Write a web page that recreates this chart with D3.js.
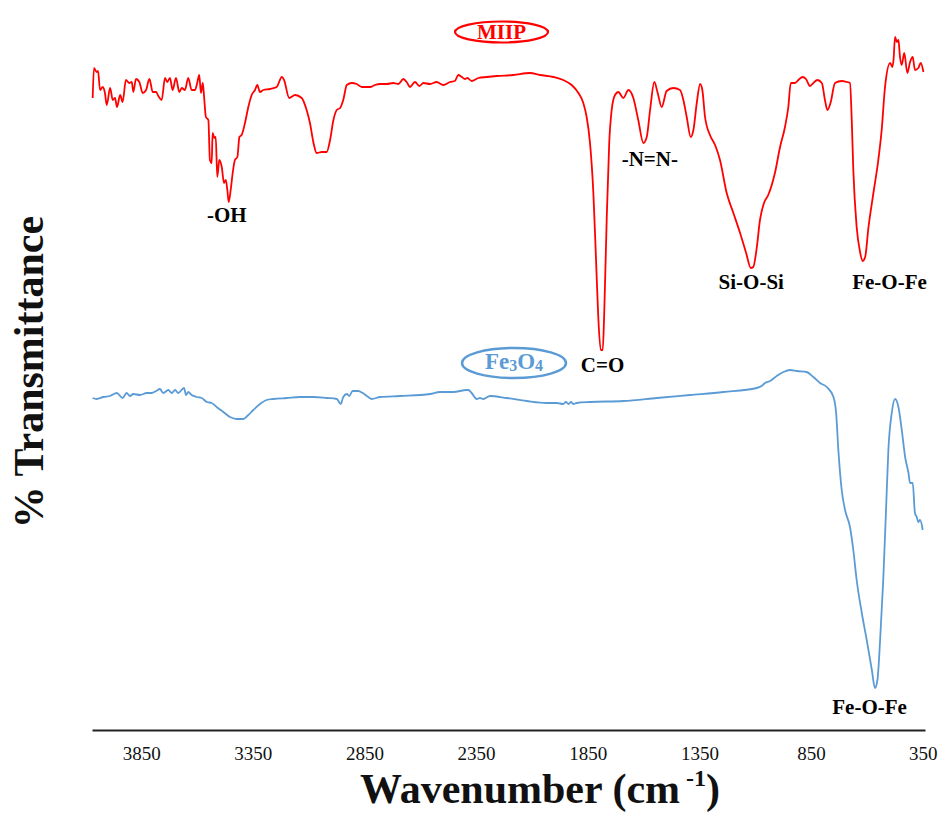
<!DOCTYPE html>
<html>
<head>
<meta charset="utf-8">
<script src="https://cdn.jsdelivr.net/npm/d3@7"></script>
<style>
  html, body { margin: 0; padding: 0; background: #fff; }
  svg { display: block; }
</style>
</head>
<body>
<svg id="chart" width="946" height="821"></svg>
<script>
// ---- Data (wavenumber cm^-1, transmittance in arbitrary units) ----
const miipWavenumber = [4067,4061,4049,4043,4034,4022,4012,4004,3989,3977,3967,3958,3944,3933,3918,3903,3892,3885,3873,3858,3843,3828,3813,3798,3783,3773,3758,3743,3733,3721,3709,3694,3679,3668,3654,3639,3624,3609,3598,3590,3582,3574,3568,3560,3549,3542,3534,3530,3522,3516,3509,3500,3489,3479,3471,3464,3458,3449,3440,3430,3419,3410,3400,3385,3370,3355,3340,3330,3318,3303,3273,3243,3220,3210,3187,3161,3131,3109,3094,3079,3064,3041,3019,3004,2989,2974,2959,2945,2929,2907,2885,2862,2825,2803,2780,2750,2721,2698,2676,2661,2646,2624,2604,2586,2556,2527,2497,2467,2445,2430,2414,2400,2389,2370,2340,2303,2258,2183,2109,2064,2004,1960,1922,1892,1870,1855,1840,1825,1813,1803,1792,1783,1776,1765,1754,1743,1728,1713,1691,1668,1646,1624,1601,1586,1571,1552,1537,1519,1497,1467,1437,1422,1407,1389,1377,1362,1347,1337,1325,1303,1280,1258,1228,1198,1168,1141,1120,1109,1093,1079,1061,1042,1012,989,967,952,941,922,907,888,873,855,840,822,802,788,777,762,743,713,690,676,668,661,646,630,619,608,593,571,549,534,519,496,486,481,474,466,459,452,444,433,419,407,395,385,370,359,347];
const miipTransmittance = [632,662,658,659,640,643,637,625,642,630,632,623,635,628,650,647,648,638,651,648,637,640,651,638,638,634,630,652,648,652,640,652,638,642,640,652,640,640,648,655,637,647,633,613,610,570,567,597,592,593,553,570,563,547,550,540,528,540,557,570,573,593,595,607,623,635,640,645,638,640,641,643,653,650,632,635,632,620,607,588,577,578,578,590,610,620,622,630,645,647,646,643,643,645,646,646,647,646,651,648,643,648,644,647,646,648,645,648,649,655,653,651,652,649,652,653,654,655,657,655,653,650,645,637,627,613,587,537,470,413,380,380,420,513,587,620,635,638,632,640,632,610,587,593,620,648,637,623,639,642,640,630,613,593,600,627,646,640,613,595,585,570,537,517,497,477,462,463,483,510,527,535,557,583,603,623,647,647,650,653,651,644,647,650,647,630,620,628,647,649,648,647,610,560,503,477,469,473,503,537,570,600,643,667,663,670,693,688,690,673,665,677,657,668,673,660,662,667,658];

const fe3o4Wavenumber = [4067,4049,4019,3989,3959,3933,3915,3900,3885,3855,3825,3803,3783,3766,3751,3728,3713,3698,3684,3658,3649,3639,3624,3601,3579,3556,3534,3512,3482,3452,3422,3392,3370,3348,3318,3288,3258,3198,3139,3079,3019,2974,2956,2945,2929,2918,2903,2878,2858,2833,2818,2780,2691,2556,2512,2452,2392,2385,2370,2347,2333,2318,2288,2213,2124,2034,1989,1960,1948,1936,1925,1915,1900,1840,1691,1541,1392,1243,1094,1072,1056,1034,1004,974,944,914,870,840,810,780,750,738,728,713,698,676,661,646,623,601,578,564,553,541,527,514,504,489,474,459,444,429,414,407,395,385,377,370,362,350];
const fe3o4Transmittance = [332,331,333,334,337,332,337,334,336,335,337,337,339,341,337,340,337,340,337,342,335,338,335,333,332,328,327,323,318,313,311,311,315,320,326,330,331,332,333,333,332,331,326,333,336,334,339,339,337,333,331,333,334,336,338,338,340,340,337,331,332,331,334,332,329,327,327,326,328,326,328,326,327,328,329,332,335,338,342,344,347,349,354,358,360,359,358,353,347,343,333,317,280,240,220,203,180,150,117,90,60,42,50,90,150,223,280,317,331,323,300,273,257,247,247,217,213,208,210,200];

const tickValues = [3850, 3350, 2850, 2350, 1850, 1350, 850, 350];

const peakLabels = ["-OH", "C=O", "-N=N-", "Si-O-Si", "Fe-O-Fe", "Fe-O-Fe"];
const peakWavenumber = [3466, 1784, 1572, 1118, 499, 588];
const peakLabelLevel = [508, 358, 564, 441, 441, 16];

const seriesNames = ["MIIP", "Fe3O4"];

// ---- Chart ----
const svg = d3.select("#chart");
const serif = "'Liberation Serif', 'Times New Roman', serif";

const x = d3.scaleLinear().domain([4070, 340]).range([92, 925]);
const y = d3.scaleLinear().domain([0, 700]).range([730, 30]);

const line = d3.line()
  .x(d => x(d[0]))
  .y(d => y(d[1]))
  .curve(d3.curveMonotoneX);

const miip = miipWavenumber.map((w, i) => [w, miipTransmittance[i]]);
const fe3o4 = fe3o4Wavenumber.map((w, i) => [w, fe3o4Transmittance[i]]);

svg.append("path").datum(fe3o4)
  .attr("d", line).attr("fill", "none")
  .attr("stroke", "#5b9bd5").attr("stroke-width", 1.8)
  .attr("stroke-linejoin", "round");

svg.append("path").datum(miip)
  .attr("d", line).attr("fill", "none")
  .attr("stroke", "#ff0000").attr("stroke-width", 1.8)
  .attr("stroke-linejoin", "round");

// X axis
const xAxis = d3.axisBottom(x).tickValues(tickValues).tickSize(0).tickPadding(16.5)
  .tickFormat(d3.format("d"));
const gx = svg.append("g").attr("transform", "translate(0,730)").call(xAxis);
gx.select(".domain").attr("stroke", "#222").attr("stroke-width", 2);
gx.selectAll("text").attr("font-family", serif).attr("font-size", 19).attr("fill", "#111");

// Axis titles
const xt = svg.append("text")
  .attr("x", 540).attr("y", 803)
  .attr("text-anchor", "middle")
  .attr("font-family", serif).attr("font-weight", "bold").attr("font-size", 42)
  .attr("fill", "#111");
xt.append("tspan").text("Wavenumber (cm");
xt.append("tspan").text(" -1").attr("font-size", 24).attr("dy", -17);
xt.append("tspan").text(")").attr("dy", 17);

svg.append("text")
  .attr("transform", "translate(43,372) rotate(-90)")
  .attr("text-anchor", "middle")
  .attr("font-family", serif).attr("font-weight", "bold").attr("font-size", 42)
  .attr("fill", "#111")
  .text("% Transmittance");

// Peak annotations
svg.selectAll("text.peak").data(peakLabels).enter().append("text")
  .attr("class", "peak")
  .attr("x", (d, i) => x(peakWavenumber[i]))
  .attr("y", (d, i) => y(peakLabelLevel[i]))
  .attr("text-anchor", "middle")
  .attr("font-family", serif).attr("font-weight", "bold").attr("font-size", 21)
  .attr("fill", "#000")
  .text(d => d);

// Series labels in ellipses
svg.append("ellipse").attr("cx", 501.5).attr("cy", 32).attr("rx", 46.5).attr("ry", 10.5)
  .attr("fill", "none").attr("stroke", "#ff0000").attr("stroke-width", 2.2);
svg.append("text").attr("x", 501.5).attr("y", 39)
  .attr("text-anchor", "middle")
  .attr("font-family", serif).attr("font-weight", "bold").attr("font-size", 21)
  .attr("fill", "#ff0000").text(seriesNames[0]);

svg.append("ellipse").attr("cx", 514).attr("cy", 363).attr("rx", 52).attr("ry", 15)
  .attr("fill", "none").attr("stroke", "#5b9bd5").attr("stroke-width", 2.5);
const ft = svg.append("text").attr("x", 514).attr("y", 369)
  .attr("text-anchor", "middle")
  .attr("font-family", serif).attr("font-weight", "bold").attr("font-size", 23)
  .attr("fill", "#5b9bd5");
ft.append("tspan").text("Fe");
ft.append("tspan").text("3").attr("font-size", 16).attr("dy", 2);
ft.append("tspan").text("O").attr("dy", -2);
ft.append("tspan").text("4").attr("font-size", 16).attr("dy", 2);
</script>
</body>
</html>
